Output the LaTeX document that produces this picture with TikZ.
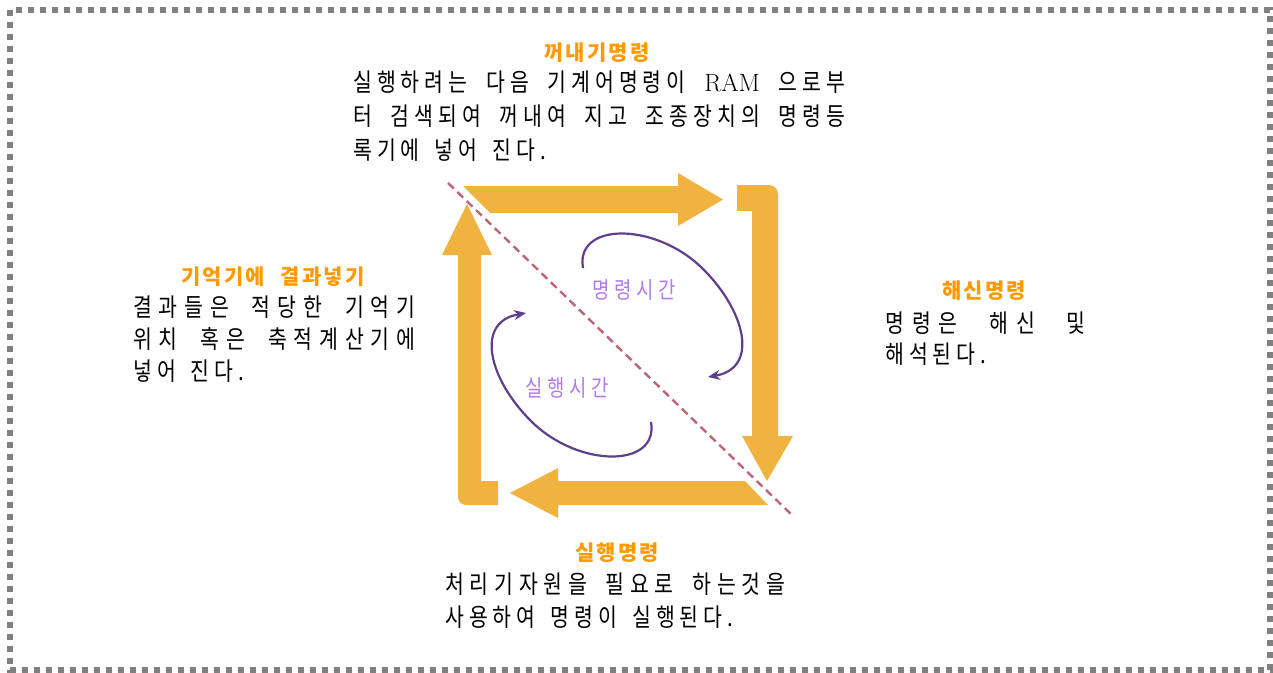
\documentclass[tikz,border=0pt]{standalone}
\usepackage{fontspec}
\usetikzlibrary{arrows.meta}
\newfontfamily\kb{Noto Sans CJK KR}[FakeStretch=0.82,LetterSpace=20]
\newfontfamily\kt{Noto Sans CJK KR}[LetterSpace=10]
\definecolor{arr}{RGB}{241,179,64}
\definecolor{ttl}{RGB}{255,153,0}
\definecolor{cyc}{RGB}{94,63,140}
\definecolor{lbl}{RGB}{178,122,238}
\definecolor{diag}{RGB}{190,100,118}
\definecolor{frm}{RGB}{128,128,128}
\newcommand\bodyfont{\kb\fontsize{25}{25}\selectfont\spaceskip=15pt plus 1fil\relax}
\newcommand\jline[3][20]{\makebox[#2][s]{\bodyfont\addfontfeatures{LetterSpace=#1}\spaceskip=12pt plus 1fil\relax #3}}
\newcommand\nline[1]{{\bodyfont #1}}
\newcommand\ttltext[1]{{\kt\bfseries\fontsize{21}{21}\selectfont\spaceskip=16pt\relax #1}}
\newcommand\ram{{\rmfamily\fontsize{25}{25}\selectfont\addfontfeatures{LetterSpace=6}RAM}}
\tikzset{
  ttlnode/.style={inner sep=0pt, anchor=base, text=ttl},
  bodyline/.style={inner sep=0pt, anchor=base west, text=black},
  cyclbl/.style={inner sep=0pt, text=lbl, font=\kb\fontsize{23}{23}\selectfont},
  bigarrow/.style={fill=arr, draw=none},
  cycle/.style={draw=cyc, line width=2.2pt, -{Stealth[length=12pt,width=10pt]}},
  diagline/.style={draw=diag, line width=2.4pt, dash pattern=on 8pt off 5pt}
}
\begin{document}
\begin{tikzpicture}[x=1pt,y=-1pt]
\useasboundingbox (0,0) rectangle (1273,672);
\draw[frm, line width=6pt, dash pattern=on 6pt off 6pt] (10,10) rectangle (1270,670);

% big orange arrows
\fill[bigarrow] (463,186) -- (678,186) -- (678,173) -- (723,199.5) -- (678,226) -- (678,213) -- (490,213) -- cycle;
\fill[bigarrow] (737,185) -- (769,185) to[out=0,in=90] (778,194) -- (778,436) -- (793,436) -- (767,481) -- (742,436) -- (752,436) -- (752,211) -- (737,211) -- cycle;
\fill[bigarrow] (745,481) -- (558,481) -- (558,468) -- (510,493) -- (558,518) -- (558,505) -- (768,505) -- cycle;
\fill[bigarrow] (498,505) -- (466,505) to[out=180,in=-90] (458,497) -- (458,255) -- (442,255) -- (467,204) -- (492,255) -- (481,255) -- (481,481) -- (498,481) -- cycle;

% diagonal
\coordinate (d1) at (448,183);
\coordinate (d2) at (793,516);
\draw[diagline] (d1) -- (d2);

% cycles
\coordinate (u0) at (583,268);
\coordinate (u1) at (702,268);
\coordinate (u2) at (708,377);
\draw[cycle] (u0) .. controls (575,222) and (655,222) .. (u1) .. controls (745,310) and (760,368) .. (u2);
\coordinate (l0) at (651,422);
\coordinate (l1) at (532,422);
\coordinate (l2) at (526,313);
\draw[cycle] (l0) .. controls (659,468) and (579,468) .. (l1) .. controls (489,380) and (474,322) .. (l2);
\node[cyclbl] (lt1) at (634,290) {명령시간};
\node[cyclbl] (lt2) at (567,388) {실행시간};

% top block
\node[ttlnode] (t1) at (597,60) {\ttltext{꺼내기명령}};
\node[bodyline] (t1a) at (353,91) {\jline{492pt}{실행하려는 다음 기계어명령이 \ram{} 으로부}};
\node[bodyline] (t1b) at (353,125) {\jline{492pt}{터 검색되여 꺼내여 지고 조종장치의 명령등}};
\node[bodyline] (t1c) at (353,159) {\nline{록기에 넣어 진다.}};

% left block
\node[ttlnode] (t2) at (273,284) {\ttltext{기억기에 결과넣기}};
\node[bodyline] (t2a) at (133,316) {\jline[27]{282pt}{결과들은 적당한 기억기}};
\node[bodyline] (t2b) at (133,348) {\jline[27]{282pt}{위치 혹은 축적계산기에}};
\node[bodyline] (t2c) at (133,380) {\nline{넣어 진다.}};

% right block
\node[ttlnode] (t3) at (984,298) {\ttltext{해신명령}};
\node[bodyline] (t3a) at (885,332) {\jline[32]{200pt}{명령은 해신 및}};
\node[bodyline] (t3b) at (885,363) {\nline{해석된다.}};

% bottom block
\node[ttlnode] (t4) at (617,560) {\ttltext{실행명령}};
\node[bodyline] (t4a) at (445,593) {\jline[23]{340pt}{처리기자원을 필요로 하는것을}};
\node[bodyline] (t4b) at (445,626) {\nline{사용하여 명령이 실행된다.}};
\end{tikzpicture}
\end{document}
